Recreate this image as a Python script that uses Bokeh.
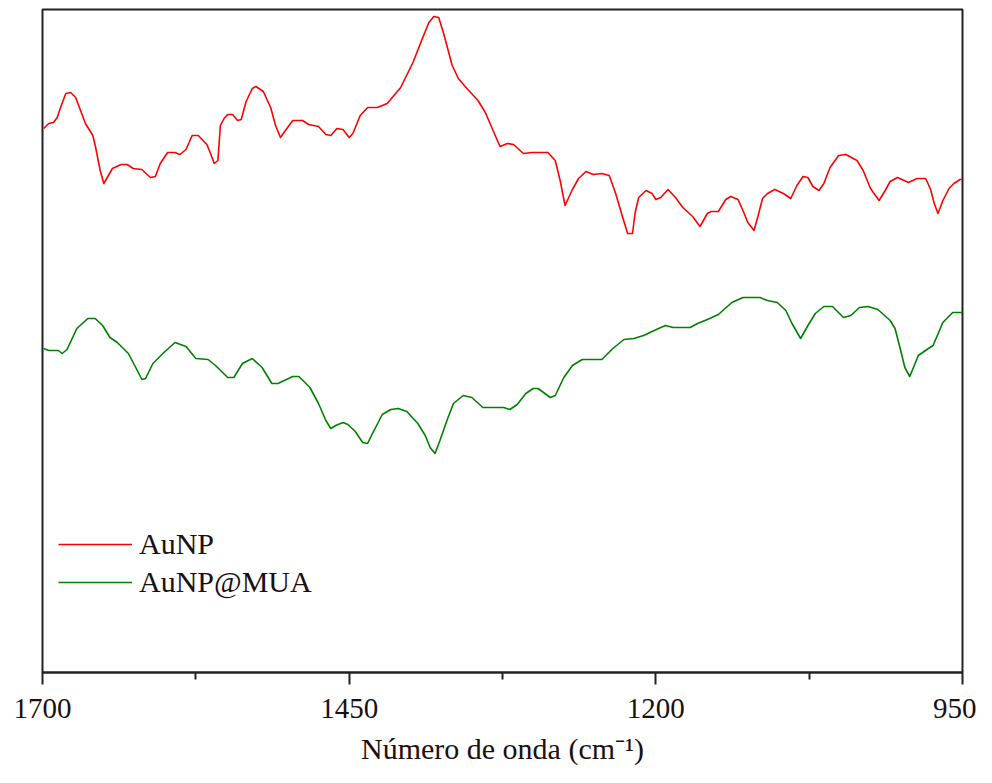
from bokeh.plotting import figure
from bokeh.models import Range1d, FixedTicker, Legend, LegendItem
from bokeh.embed import file_html
from bokeh.resources import INLINE

# --- data (wavenumber in cm^-1, intensity in arbitrary units) ---
aunp_wn = [1699, 1695, 1691, 1688, 1685, 1681, 1677, 1673, 1669, 1665, 1659, 1657, 1653, 1650,
           1643, 1636, 1631, 1626, 1619, 1612, 1608, 1604, 1598, 1592, 1588, 1583, 1578, 1573,
           1566, 1563, 1560, 1557, 1555, 1552, 1549, 1545, 1541, 1538, 1534, 1529, 1526, 1520,
           1514, 1510, 1506, 1502, 1496, 1488, 1483, 1475, 1469, 1465, 1460, 1455, 1450, 1447,
           1441, 1435, 1427, 1419, 1408, 1398, 1390, 1385, 1381, 1377, 1373, 1366, 1361, 1354,
           1345, 1339, 1332, 1327, 1321, 1316, 1308, 1301, 1288, 1282, 1278, 1274, 1268, 1263,
           1257, 1251, 1244, 1238, 1233, 1227, 1223, 1219, 1217, 1214, 1208, 1203, 1200, 1196,
           1190, 1184, 1178, 1170, 1164, 1158, 1155, 1149, 1143, 1139, 1133, 1129, 1125, 1120,
           1117, 1113, 1109, 1103, 1096, 1090, 1085, 1080, 1076, 1072, 1067, 1063, 1058, 1051,
           1045, 1036, 1031, 1025, 1018, 1013, 1009, 1003, 994, 987, 980, 976, 973, 970, 966,
           961, 957, 952, 950]
aunp_val = [5.44, 5.49, 5.50, 5.55, 5.66, 5.79, 5.80, 5.75, 5.62, 5.49, 5.37, 5.27, 5.02, 4.89,
            5.04, 5.08, 5.08, 5.04, 5.03, 4.95, 4.96, 5.09, 5.20, 5.20, 5.18, 5.23, 5.37, 5.37,
            5.28, 5.19, 5.09, 5.12, 5.47, 5.54, 5.58, 5.58, 5.52, 5.53, 5.71, 5.84, 5.86, 5.81,
            5.65, 5.47, 5.35, 5.42, 5.52, 5.52, 5.48, 5.46, 5.38, 5.37, 5.44, 5.43, 5.35, 5.39,
            5.57, 5.65, 5.65, 5.69, 5.85, 6.10, 6.35, 6.50, 6.56, 6.55, 6.39, 6.07, 5.94, 5.84,
            5.72, 5.60, 5.40, 5.26, 5.29, 5.28, 5.19, 5.20, 5.20, 5.12, 4.92, 4.67, 4.83, 4.94,
            5.01, 4.98, 4.99, 4.97, 4.80, 4.55, 4.39, 4.39, 4.59, 4.75, 4.82, 4.79, 4.73, 4.75,
            4.83, 4.75, 4.65, 4.56, 4.46, 4.59, 4.61, 4.61, 4.73, 4.76, 4.73, 4.62, 4.50, 4.42,
            4.55, 4.74, 4.79, 4.83, 4.79, 4.74, 4.87, 4.96, 4.95, 4.86, 4.82, 4.89, 5.05, 5.17,
            5.18, 5.12, 5.02, 4.84, 4.72, 4.82, 4.91, 4.95, 4.90, 4.94, 4.94, 4.83, 4.69, 4.59,
            4.72, 4.84, 4.89, 4.93, 4.93]

mua_wn = [1699, 1695, 1687, 1684, 1680, 1672, 1663, 1657, 1651, 1645, 1639, 1630, 1624, 1619,
          1616, 1610, 1601, 1592, 1583, 1575, 1565, 1559, 1549, 1544, 1537, 1529, 1521, 1513,
          1508, 1496, 1491, 1482, 1475, 1469, 1465, 1461, 1455, 1451, 1445, 1439, 1435, 1431,
          1423, 1416, 1410, 1403, 1394, 1388, 1384, 1380, 1376, 1370, 1365, 1357, 1350, 1341,
          1324, 1319, 1313, 1306, 1300, 1296, 1286, 1282, 1275, 1268, 1260, 1244, 1235, 1226,
          1218, 1210, 1203, 1196, 1192, 1186, 1172, 1166, 1158, 1149, 1138, 1129, 1115, 1109,
          1101, 1094, 1089, 1082, 1076, 1070, 1063, 1056, 1047, 1041, 1034, 1027, 1019, 1009,
          1005, 1001, 997, 993, 990, 986, 979, 974, 966, 958, 950]
mua_val = [3.24, 3.22, 3.22, 3.19, 3.23, 3.44, 3.54, 3.54, 3.47, 3.35, 3.30, 3.19, 3.05, 2.93,
           2.94, 3.09, 3.20, 3.30, 3.26, 3.14, 3.13, 3.07, 2.95, 2.95, 3.09, 3.14, 3.05, 2.89,
           2.89, 2.96, 2.96, 2.85, 2.69, 2.52, 2.44, 2.47, 2.50, 2.48, 2.41, 2.30, 2.29, 2.39,
           2.58, 2.63, 2.64, 2.61, 2.49, 2.37, 2.25, 2.19, 2.32, 2.53, 2.69, 2.77, 2.75, 2.65,
           2.65, 2.63, 2.68, 2.79, 2.84, 2.84, 2.75, 2.77, 2.95, 3.07, 3.13, 3.13, 3.24, 3.33,
           3.34, 3.37, 3.41, 3.45, 3.47, 3.45, 3.45, 3.49, 3.53, 3.58, 3.70, 3.75, 3.75, 3.72,
           3.70, 3.62, 3.49, 3.34, 3.47, 3.59, 3.66, 3.66, 3.55, 3.57, 3.65, 3.66, 3.63, 3.52,
           3.44, 3.25, 3.05, 2.96, 3.05, 3.17, 3.23, 3.27, 3.50, 3.60, 3.60]

major_ticks = [1700, 1450, 1200, 950]
minor_ticks = [1575, 1325, 1075]
series_names = ["AuNP", "AuNP@MUA"]
series_colors = ["#ff0000", "#008000"]

FONT = "Liberation Serif"

p = figure(width=976, height=767, output_backend="svg", toolbar_location=None,
           x_range=Range1d(1700, 950), y_range=Range1d(0, 6.63),
           min_border_left=42, min_border_right=14, min_border_top=9, min_border_bottom=95)

r1 = p.line(aunp_wn, aunp_val, line_color=series_colors[0], line_width=1.6, line_join="round")
r2 = p.line(mua_wn, mua_val, line_color=series_colors[1], line_width=1.6, line_join="round")

p.xgrid.visible = False
p.ygrid.visible = False
p.yaxis.visible = False
p.outline_line_color = "#222222"
p.outline_line_width = 2
p.outline_line_alpha = 1.0

ax = p.xaxis[0]
ax.ticker = FixedTicker(ticks=major_ticks, minor_ticks=minor_ticks)
ax.axis_line_color = "#222222"
ax.axis_line_width = 2
ax.major_tick_line_color = "#222222"
ax.major_tick_line_width = 2
ax.minor_tick_line_color = "#222222"
ax.minor_tick_line_width = 2
ax.major_tick_in = 0
ax.major_tick_out = 12
ax.minor_tick_in = 0
ax.minor_tick_out = 7
ax.major_label_text_font = FONT
ax.major_label_text_font_size = "29px"
ax.major_label_text_color = "#1a1010"
ax.major_label_standoff = 14
ax.axis_label = "Número de onda (cm⁻¹)"
ax.axis_label_text_font = FONT
ax.axis_label_text_font_size = "30px"
ax.axis_label_text_font_style = "normal"
ax.axis_label_text_color = "#1a1010"
ax.axis_label_standoff = 11

legend = Legend(items=[LegendItem(label=series_names[0], renderers=[r1]),
                       LegendItem(label=series_names[1], renderers=[r2])],
                location=(16, 72), glyph_width=74, glyph_height=36, label_height=36,
                spacing=2, label_standoff=7, padding=0, margin=0,
                border_line_color=None, background_fill_alpha=0,
                label_text_font=FONT, label_text_font_size="30px",
                label_text_color="#1a1010")
p.add_layout(legend)

open("out.html", "w").write(file_html(p, INLINE))
